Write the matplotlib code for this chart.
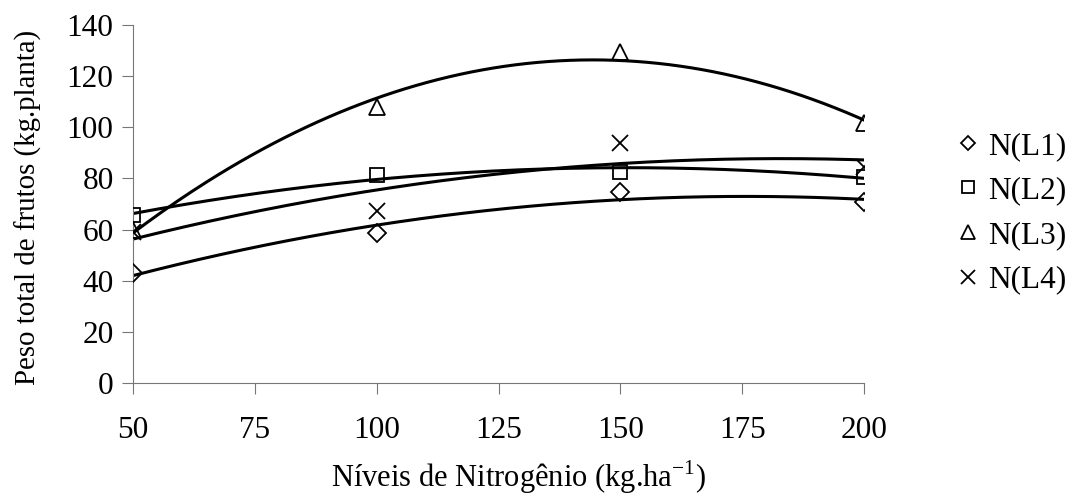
import numpy as np
import matplotlib
matplotlib.use("Agg")
import matplotlib.pyplot as plt

plt.rcParams["font.family"] = ["Liberation Serif", "DejaVu Serif"]
plt.rcParams["mathtext.fontset"] = "custom"
plt.rcParams["mathtext.rm"] = "Liberation Serif"

nitrogen = [50, 100, 150, 200]
l1 = [43, 58.7, 74.7, 70.8]
l2 = [65.7, 81.3, 82.5, 80.6]
l3 = [59.8, 108, 129.5, 101.7]
l4 = [59, 67.3, 94, 84.5]

series = [
    ("N(L1)", l1, "D", 9),
    ("N(L2)", l2, "s", 10),
    ("N(L3)", l3, "^", 12),
    ("N(L4)", l4, "x", 12),
]

fig = plt.figure(figsize=(10.76, 4.97), dpi=100)
ax = fig.add_axes([0.1236, 0.2294, 0.6794, 0.7203])

xs = np.linspace(nitrogen[0], nitrogen[-1], 200)
handles = []
for label, vals, mk, ms in series:
    # quadratic trendline, as in the original spreadsheet chart
    coef = np.polyfit(nitrogen, vals, 2)
    ax.plot(xs, np.polyval(coef, xs), color="black", lw=2.2, zorder=2)
    h, = ax.plot(nitrogen, vals, ls="none", marker=mk, ms=ms,
                 mfc="none", mec="black", mew=1.3, label=label, zorder=3)
    handles.append(h)

ax.set_xlim(50, 200)
ax.set_ylim(0, 140)
ax.set_xticks([50, 75, 100, 125, 150, 175, 200])
ax.set_yticks(range(0, 141, 20))
for s in ["top", "right"]:
    ax.spines[s].set_visible(False)
for s in ["left", "bottom"]:
    ax.spines[s].set_color("#777777")
    ax.spines[s].set_linewidth(0.8)
ax.tick_params(axis="both", direction="out", length=8, width=0.8, color="#777777",
               labelsize=22.5)
ax.tick_params(axis="x", pad=16)
ax.tick_params(axis="y", pad=6)

ax.set_xlabel("Níveis de Nitrogênio (kg.ha$^{\\mathregular{-1}}$)", fontsize=22)
ax.xaxis.set_label_coords(0.527, -0.212)
ax.set_ylabel("Peso total de frutos (kg.planta)", fontsize=20.8)
ax.yaxis.set_label_coords(-0.125, 0.49)

leg = fig.legend(handles=handles, loc="upper left", bbox_to_anchor=(0.879, 0.76),
                 frameon=False, fontsize=22.5, handlelength=0.6, handletextpad=0.35,
                 labelspacing=0.5, markerscale=0.8, borderaxespad=0)

fig.savefig("out.png", dpi=100)
